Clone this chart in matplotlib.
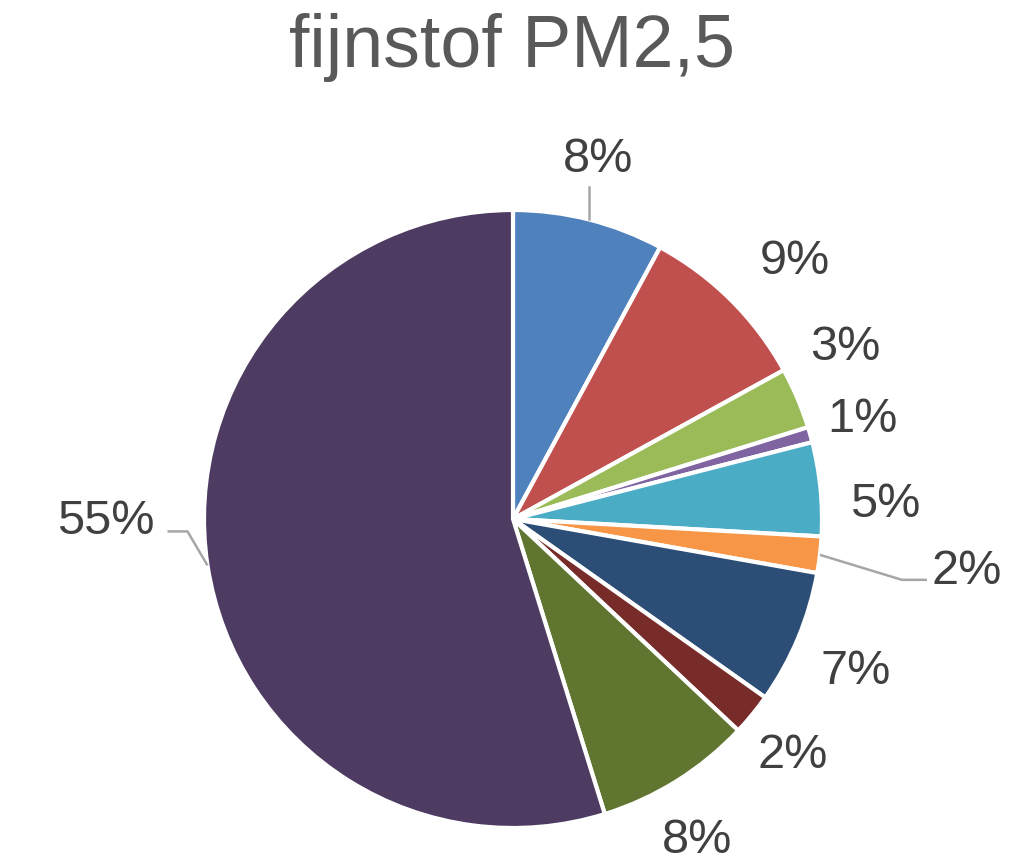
import numpy as np
import matplotlib
matplotlib.use("Agg")
import matplotlib.pyplot as plt

plt.rcParams.update({
    "font.family": ["Liberation Sans", "DejaVu Sans"],
})

TITLE = "fijnstof PM2,5"
values = [7.9, 9.1, 3.2, 0.8, 4.9, 1.9, 7.0, 2.2, 8.2, 54.8]
colors = ["#4F81BD", "#C0504D", "#9BBB59", "#8064A2", "#4BACC6",
          "#F79646", "#2C4D75", "#772C2A", "#5F7530", "#4D3B62"]
labels = [f"{round(v)}%" for v in values]

W, H = 1024, 866
CX, CY, R = 513, H - 519, 309
LABEL_R = 370
FS = 35
TEXT, LEADER = "#404040", "#A6A6A6"
# small label nudges (px, y up) off the radial spot, like excel's collision dodging
NUDGE = {1: (21, -5), 2: (-8, 27), 3: (-7, -1), 4: (4, -21),
         6: (1, -10), 7: (-7, -2), 8: (-12, -8)}

fig = plt.figure(figsize=(W / 100, H / 100), dpi=100)
ax = fig.add_axes([0, 0, 1, 1])
wedges, _ = ax.pie(values, colors=colors, startangle=90, counterclock=False,
                   center=(CX, CY), radius=R,
                   wedgeprops=dict(edgecolor="white", linewidth=3))
ax.set_xlim(0, W)
ax.set_ylim(0, H)
ax.set_aspect("equal")
ax.axis("off")

for i, (w, lab) in enumerate(zip(wedges, labels)):
    mid = np.deg2rad((w.theta1 + w.theta2) / 2)
    ex, ey = CX + R * np.cos(mid), CY + R * np.sin(mid)
    if i == 5:  # small orange slice: label pushed right with a leader
        ax.plot([ex, ex + 82, ex + 107], [ey, ey - 25, ey - 25],
                color=LEADER, lw=1.8, solid_capstyle="butt")
        ax.text(ex + 112, ey - 25 + 8, lab, ha="left", va="center",
                fontsize=FS, color=TEXT)
    elif i == len(values) - 1:  # big slice: label on the left
        ax.plot([ex, ex - 20, ex - 40], [ey, ey + 34, ey + 34],
                color=LEADER, lw=1.8, solid_capstyle="butt")
        ax.text(ex - 53, ey + 34 + 10, lab, ha="right", va="center",
                fontsize=FS, color=TEXT)
    elif i == 0:  # top slice: short vertical leader
        ax.plot([ex, ex], [ey, ey + 32], color=LEADER, lw=1.8)
        ax.text(ex + 9, ey + 32 + 28, lab, ha="center", va="center",
                fontsize=FS, color=TEXT)
    else:
        dx, dy = NUDGE.get(i, (0, 0))
        lx = CX + LABEL_R * np.cos(mid) + dx
        ly = CY + LABEL_R * np.sin(mid) + dy
        ax.text(lx, ly, lab, ha="center", va="center",
                fontsize=FS, color=TEXT)

fig.text(0.5, 1 - 48 / H, TITLE, ha="center", va="center",
         fontsize=53, color="#595959")

fig.savefig("out.png", dpi=100, facecolor="white")
